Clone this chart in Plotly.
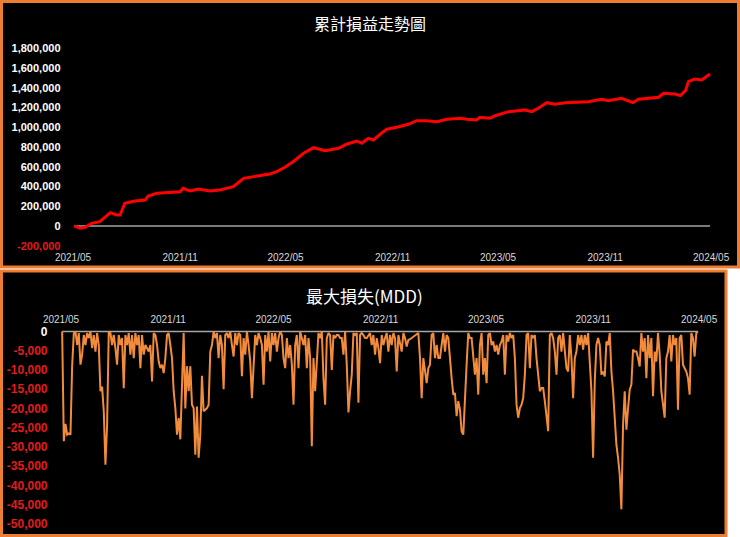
import pandas as pd
import plotly.graph_objects as go

# ---------------- data ----------------
pnl_dates = [
    "2021-05-03", "2021-05-13", "2021-05-22", "2021-06-02", "2021-06-16", "2021-07-04",
    "2021-07-15", "2021-07-21", "2021-07-29", "2021-08-15", "2021-09-02", "2021-09-07",
    "2021-09-22", "2021-10-15", "2021-11-01", "2021-11-06", "2021-11-18", "2021-12-02",
    "2021-12-22", "2022-01-08", "2022-01-31", "2022-02-06", "2022-02-18", "2022-03-13",
    "2022-04-04", "2022-04-16", "2022-04-30", "2022-05-14", "2022-06-01", "2022-06-18",
    "2022-07-08", "2022-07-31", "2022-08-14", "2022-08-31", "2022-09-09", "2022-09-20",
    "2022-09-29", "2022-10-16", "2022-10-22", "2022-11-08", "2022-11-28", "2022-12-12",
    "2022-12-29", "2023-01-16", "2023-02-02", "2023-02-25", "2023-03-08", "2023-03-25",
    "2023-03-31", "2023-04-17", "2023-04-26", "2023-05-19", "2023-06-16", "2023-06-28",
    "2023-07-09", "2023-07-24", "2023-08-07", "2023-08-24", "2023-09-16", "2023-10-03",
    "2023-10-26", "2023-11-06", "2023-11-29", "2023-12-19", "2023-12-28", "2024-01-20",
    "2024-02-01", "2024-02-09", "2024-02-29", "2024-03-09", "2024-03-18", "2024-03-23",
    "2024-04-03", "2024-04-15", "2024-04-21", "2024-04-29",
]
pnl_values = [
    0, -23000, -13000, 27000, 44000, 135000,
    111000, 111000, 230000, 253000, 263000, 304000,
    331000, 341000, 347000, 382000, 355000, 375000,
    355000, 365000, 398000, 425000, 483000, 506000,
    527000, 550000, 595000, 651000, 736000, 793000,
    763000, 787000, 828000, 861000, 838000, 888000,
    871000, 955000, 980000, 1000000, 1030000, 1067000,
    1067000, 1057000, 1081000, 1091000, 1081000, 1074000,
    1101000, 1091000, 1117000, 1158000, 1175000, 1158000,
    1192000, 1249000, 1233000, 1249000, 1259000, 1259000,
    1283000, 1269000, 1294000, 1249000, 1283000, 1294000,
    1304000, 1344000, 1337000, 1320000, 1371000, 1462000,
    1489000, 1479000, 1506000, 1540000,
]

# drawdown series, sampled at even steps between these dates
mdd_start = "2021-05-03"
mdd_end = "2024-04-29"
mdd_values = [
    # 2021/05 - 2021/11
    0, -28500, -24000, -26800, -26500, -26800, -9000, -500, 0, -3500,
    -400, -8600, -6000, -900, -3500, -400, -1700, 0, -4300, -900,
    -5200, -400, -3500, -15500, -14300, -20700, -34600, -24200, 0, -400,
    -3500, -900, -4300, -8600, -900, -3500, -1700, -14700, -900, -3500,
    -400, -6000, -900, -6900, -400, -3500, -900, -9500, -900, -6000,
    -3500, -4300, -5200, -3500, -13000, -400, -900, -3500, -7800, -9500,
    -8600, -10800, -6900, -900, -400, -3500, -6900, -15500, -19900, -26800,
    -22500, -28000, -12100,
    # 2021/11 - 2022/07
    -400, -20000, -9000, -15500, -9000, -19000, -19900, -32000, -19500, -32800,
    -26800, -11500, -20700, -20300, -19900, -19000, -5200, -3500, 0, -1700,
    -400, -6900, -900, -3500, -15000, -900, -400, -1700, 0, -3500,
    -6500, -400, -3500, -400, -900, -11600, -1700, -6000, 0, -3500,
    -7800, -17300, -6900, -900, -3500, -400, -1700, -3500, -13800, -900,
    -5200, 0, -7800, -400, -3500, -400, -5200, -1700, 0, -900,
    -6900, -9500, -1700, -6900, -3500, -8600, -19000, -3500, -900, -9500,
    0, -1700, -3500, -900, -9500, -1700, -6900,
    # 2022/07 - 2023/02
    -29800, -6900, -15500, -6000, -400, -1700, 0, -12100, -19000, -1700,
    -400, -900, -10000, -900, -1700, -900, -900, -1700, -1700, -6000,
    0, -8600, -21000, -15500, -11200, -400, -900, -400, -18500, -900,
    -400, -900, -1700, -1700, -900, -400, -3500, -900, -6000, -1700,
    -4300, -8200, -900, -3500, -1700, -400, -5200, -900, -3500, -400,
    -1700, -10400, -900, -3500, -5200, -400, -1700, -3900, -2200, -2000,
    -1700, -1300, -1000, -900, -400, -6900, -17300, -6900, -10400, -13400,
    -9500, -8600, -900, -400, -6900, -3500, -6900,
    # 2023/02 - 2023/09
    -6900, -3500, -400, -5200, -900, -1700, -7800, -12100, -16400, -16000,
    -22000, -18100, -20300, -25900, -26800, -15500, -8600, -400, -1700, -1700,
    -6000, -11200, -6900, -16400, -3500, -400, -11200, -6900, -13400, -900,
    -400, -3500, -2600, -5200, -3500, -6000, -3500, -2600, -900, -11200,
    -900, -2600, -400, -1700, -900, -6900, -19000, -22400, -19900, -19000,
    -17300, -11200, -900, -400, -9500, -900, -1700, -900, -6900, -12100,
    -15500, -14700, -14700, -18100, -21600, -25900, -900, -400, -1700, -5200,
    -11200, -1700, -900, -5200, -400, -6000, -9500,
    # 2023/09 - 2024/04
    -10400, -900, -6900, -17300, -6900, -5200, -900, -3500, -900, -4700,
    -900, -3500, -400, -8600, -15500, -32800, -13000, -3500, -1700, -3500,
    -11200, -10400, -11700, -2600, -3500, -400, -10400, -15500, -22500, -29400,
    -32800, -37200, -46200, -24200, -15500, -25500, -20000, -15100, -13800, -4700,
    -5200, -5200, -6900, -9100, -400, -5200, -1700, -12100, -900, -6900,
    -1700, -16800, -5200, -7800, -400, -6000, -15500, -19000, -22400, -6900,
    -5200, -900, -7800, -900, -3500, -1700, -20300, -1700, -900, -8600,
    -9500, -10400, -12100, -16400, -400, -1700, -6500, -400, 0,
]

tick_dates = ["2021-05-01", "2021-11-01", "2022-05-01", "2022-11-01",
              "2023-05-01", "2023-11-01", "2024-05-01"]
tick_labels = ["2021/05", "2021/11", "2022/05", "2022/11",
               "2023/05", "2023/11", "2024/05"]

pnl_ticks = [-200000, 0, 200000, 400000, 600000, 800000, 1000000,
             1200000, 1400000, 1600000, 1800000]
mdd_ticks = [0, -5000, -10000, -15000, -20000, -25000, -30000,
             -35000, -40000, -45000, -50000]

title_top = "累計損益走勢圖"
title_bottom = "最大損失(MDD)"

# ---------------- styling ----------------
W, H = 740, 537
ORANGE_BORDER = "#ED7D31"
RED_LINE = "#FF0000"
ORANGE_LINE = "#F28C3C"
LABEL_RED = "#E41B1B"
NUM_FONT = "Liberation Sans, Arial, sans-serif"
CJK_FONT = "Noto Sans CJK TC, Noto Sans CJK SC, sans-serif"


def px_x(p):
    return p / W


def px_y(p):
    return 1 - p / H


def fmt(v, red_if_neg=True):
    s = f"{v:,}"
    if v < 0 and red_if_neg:
        return f"<span style='color:{LABEL_RED}'>{s}</span>"
    return s


mdd_dates = pd.date_range(mdd_start, mdd_end, periods=len(mdd_values))

fig = go.Figure()

# zero reference lines spanning the data extent
fig.add_trace(go.Scatter(x=[pnl_dates[0], pnl_dates[-1]], y=[0, 0], mode="lines",
                         line=dict(color="#A6A6A6", width=1.5), hoverinfo="skip",
                         showlegend=False, xaxis="x", yaxis="y"))
fig.add_trace(go.Scatter(x=pnl_dates, y=pnl_values, mode="lines",
                         line=dict(color=RED_LINE, width=3), showlegend=False,
                         xaxis="x", yaxis="y"))
fig.add_trace(go.Scatter(x=[mdd_dates[0], mdd_dates[-1]], y=[0, 0], mode="lines",
                         line=dict(color="#A6A6A6", width=1.5), hoverinfo="skip",
                         showlegend=False, xaxis="x2", yaxis="y2"))
fig.add_trace(go.Scatter(x=mdd_dates, y=mdd_values, mode="lines",
                         line=dict(color=ORANGE_LINE, width=2), showlegend=False,
                         xaxis="x2", yaxis="y2"))

x_range = ["2021-04-25", "2024-05-08"]

fig.update_layout(
    template="none",
    width=W, height=H, autosize=False,
    margin=dict(l=0, r=0, t=0, b=0, pad=0),
    paper_bgcolor="white",
    plot_bgcolor="rgba(0,0,0,0)",
    showlegend=False,
    xaxis=dict(domain=[px_x(69.5), px_x(715.2)], range=x_range, type="date",
               tickvals=tick_dates, ticktext=tick_labels, showgrid=False,
               zeroline=False, showline=False, ticks="", anchor="y",
               automargin=False,
               tickfont=dict(family=NUM_FONT, size=10, color="#D9D9D9"),
               ticklabelstandoff=4),
    yaxis=dict(domain=[px_y(246.2), px_y(47.8)], range=[-205000, 1805000],
               tickvals=pnl_ticks, ticktext=[fmt(v) for v in pnl_ticks],
               showgrid=False, zeroline=False, showline=False, ticks="",
               anchor="x", automargin=False,
               tickfont=dict(family=NUM_FONT, size=11, color="white", weight=700),
               ticklabelstandoff=8),
    xaxis2=dict(domain=[px_x(57.5), px_x(703.2)], range=x_range, type="date",
                tickvals=tick_dates, ticktext=tick_labels, showgrid=False,
                zeroline=False, showline=False, ticks="", anchor="y2", side="top",
                automargin=False,
                tickfont=dict(family=NUM_FONT, size=10, color="#D9D9D9"),
                ticklabelstandoff=4),
    yaxis2=dict(domain=[px_y(525.9), px_y(329.6)], range=[-50500, 500],
                tickvals=mdd_ticks, ticktext=[fmt(v) for v in mdd_ticks],
                showgrid=False, zeroline=False, showline=False, ticks="",
                anchor="x2", automargin=False,
                tickfont=dict(family=NUM_FONT, size=12, color="white", weight=700),
                ticklabelstandoff=9),
    shapes=[
        dict(type="rect", xref="paper", yref="paper", layer="below",
             x0=px_x(1.5), x1=px_x(738.5), y0=px_y(267), y1=px_y(1.5),
             fillcolor="black", line=dict(color=ORANGE_BORDER, width=3)),
        dict(type="rect", xref="paper", yref="paper", layer="below",
             x0=px_x(1.5), x1=px_x(726), y0=px_y(535.5), y1=px_y(271),
             fillcolor="black", line=dict(color=ORANGE_BORDER, width=3)),
    ],
    annotations=[
        dict(text=title_top, xref="paper", yref="paper", x=px_x(370), y=px_y(23),
             showarrow=False, xanchor="center", yanchor="middle",
             font=dict(family=CJK_FONT, size=16, color="white")),
        dict(text=title_bottom, xref="paper", yref="paper", x=px_x(364), y=px_y(295),
             showarrow=False, xanchor="center", yanchor="middle",
             font=dict(family=CJK_FONT, size=17, color="white")),
    ],
)

page_fix = ("document.body.style.margin='0';document.body.style.padding='0';"
            "document.body.style.overflow='hidden';")

fig.write_html("out.html", post_script=page_fix,
               config={"displayModeBar": False})
